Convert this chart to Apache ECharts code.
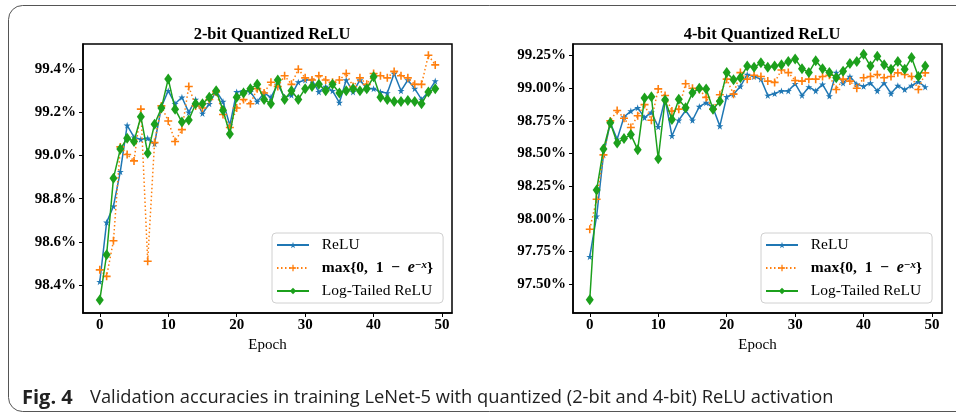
<!DOCTYPE html>
<html>
<head>
<meta charset="utf-8">
<script src="https://cdn.jsdelivr.net/npm/echarts@6/dist/echarts.min.js"></script>
<style>
  html, body { margin: 0; padding: 0; background: #fff; }
  #chart { width: 956px; height: 417px; }
</style>
</head>
<body>
<div id="chart"></div>
<script>
// epochs 0..49
const epochs = [0, 1, 2, 3, 4, 5, 6, 7, 8, 9, 10, 11, 12, 13, 14, 15, 16, 17, 18, 19,
  20, 21, 22, 23, 24, 25, 26, 27, 28, 29, 30, 31, 32, 33, 34, 35, 36, 37, 38, 39,
  40, 41, 42, 43, 44, 45, 46, 47, 48, 49]
const epochTicks = [0, 10, 20, 30, 40, 50]

// 2-bit quantized ReLU (%)
const relu2 = [98.415, 98.69, 98.765, 98.925, 99.14, 99.085, 99.075, 99.08, 99.055, 99.225,
  99.30, 99.24, 99.27, 99.20, 99.26, 99.195, 99.24, 99.30, 99.25, 99.14,
  99.295, 99.30, 99.295, 99.25, 99.29, 99.27, 99.33, 99.27, 99.28, 99.34,
  99.35, 99.35, 99.295, 99.32, 99.30, 99.245, 99.35, 99.295, 99.35, 99.31,
  99.31, 99.295, 99.29, 99.38, 99.30, 99.35, 99.31, 99.26, 99.295, 99.345]
const max2 = [98.47, 98.44, 98.605, 99.04, 99.005, 98.975, 99.215, 98.51, 99.06, 99.23,
  99.16, 99.065, 99.12, 99.32, 99.23, 99.22, 99.26, 99.295, 99.19, 99.13,
  99.22, 99.26, 99.24, 99.31, 99.29, 99.34, 99.32, 99.37, 99.33, 99.40,
  99.36, 99.35, 99.37, 99.35, 99.34, 99.35, 99.38, 99.32, 99.36, 99.33,
  99.38, 99.37, 99.36, 99.39, 99.37, 99.36, 99.33, 99.33, 99.465, 99.42]
const logt2 = [98.33, 98.54, 98.895, 99.03, 99.08, 99.065, 99.18, 99.01, 99.145, 99.22,
  99.355, 99.215, 99.155, 99.165, 99.24, 99.24, 99.27, 99.30, 99.21, 99.10,
  99.27, 99.29, 99.31, 99.33, 99.26, 99.24, 99.35, 99.26, 99.30, 99.26,
  99.31, 99.32, 99.33, 99.30, 99.33, 99.29, 99.30, 99.31, 99.30, 99.31,
  99.365, 99.27, 99.26, 99.25, 99.25, 99.255, 99.25, 99.24, 99.295, 99.31]
const ticks2 = [98.4, 98.6, 98.8, 99.0, 99.2, 99.4]

// 4-bit quantized ReLU (%)
const relu4 = [97.71, 98.02, 98.49, 98.735, 98.61, 98.78, 98.825, 98.85, 98.775, 98.815,
  98.705, 98.92, 98.635, 98.755, 98.83, 98.755, 98.86, 98.89, 98.85, 98.71,
  98.935, 98.955, 99.015, 99.105, 99.09, 99.07, 98.945, 98.96, 98.98, 98.98,
  99.035, 98.945, 99.01, 98.98, 99.03, 98.94, 99.12, 99.04, 99.09, 99.03,
  99.015, 99.04, 98.98, 99.04, 98.96, 99.02, 98.99, 99.02, 99.05, 99.01]
const max4 = [97.92, 98.15, 98.49, 98.75, 98.83, 98.77, 98.70, 98.79, 98.875, 98.755,
  98.995, 98.945, 98.825, 98.84, 99.035, 99.00, 98.99, 98.93, 98.84, 98.95,
  99.07, 98.955, 99.12, 99.07, 99.10, 99.09, 99.055, 99.045, 99.14, 99.12,
  99.06, 99.055, 99.07, 99.07, 99.09, 99.10, 98.99, 99.07, 99.055, 99.00,
  99.08, 99.09, 99.105, 99.08, 99.09, 99.118, 99.105, 99.09, 98.99, 99.118]
const logt4 = [97.38, 98.22, 98.535, 98.735, 98.58, 98.615, 98.645, 98.53, 98.925, 98.935,
  98.46, 98.91, 98.76, 98.915, 98.85, 98.965, 99.00, 98.995, 98.84, 98.90,
  99.12, 99.065, 99.08, 99.17, 99.16, 99.195, 99.16, 99.17, 99.18, 99.205,
  99.225, 99.15, 99.12, 99.21, 99.15, 99.12, 99.08, 99.13, 99.19, 99.205,
  99.26, 99.17, 99.245, 99.18, 99.145, 99.205, 99.145, 99.235, 99.09, 99.17]
const ticks4 = [97.5, 97.75, 98.0, 98.25, 98.5, 98.75, 99.0, 99.25]

const NAME_RELU = 'ReLU'
const NAME_MAX = 'max{0,1-e^-x}'
const NAME_LOG = 'Log-Tailed ReLU'

const SERIF = 'Liberation Serif'
const STAR = 'path://M50,0 L61,35 L98,35 L68,57 L79,91 L50,70 L21,91 L32,57 L2,35 L39,35 Z'
const PLUS = 'path://M4,0H6V4H10V6H6V10H4V6H0V4H4Z'

function pairs (ys) {
  return epochs.map((e, i) => [e, ys[i]])
}

function makeSeries (idx, relu, mx, lg) {
  return [
    {
      name: NAME_RELU, type: 'line', xAxisIndex: idx, yAxisIndex: idx,
      data: pairs(relu), symbol: STAR, symbolSize: 7,
      color: '#1f77b4', lineStyle: { width: 1.5 }, z: 2
    },
    {
      name: NAME_MAX, type: 'line', xAxisIndex: idx, yAxisIndex: idx,
      data: pairs(mx), symbol: PLUS, symbolSize: 8,
      color: '#ff7f0e', lineStyle: { width: 1.5, type: [1.5, 2.5] }, z: 3
    },
    {
      name: NAME_LOG, type: 'line', xAxisIndex: idx, yAxisIndex: idx,
      data: pairs(lg), symbol: 'diamond', symbolSize: [8, 11],
      color: '#1ca01c', lineStyle: { width: 1.5 }, z: 4
    }
  ]
}

function xAxis (idx) {
  return {
    type: 'value', gridIndex: idx, min: -2.45, max: 51.45,
    name: 'Epoch', nameLocation: 'middle', nameGap: 21,
    nameTextStyle: { fontFamily: SERIF, fontSize: 15, color: '#000' },
    splitLine: { show: false },
    axisLine: { onZero: false, lineStyle: { color: '#000', width: 1.5 } },
    axisTick: { length: 4, lineStyle: { color: '#000' }, customValues: epochTicks },
    axisLabel: {
      customValues: epochTicks, margin: 5,
      fontFamily: SERIF, fontWeight: 'bold', fontSize: 15, color: '#000'
    }
  }
}

function yAxis (idx, min, max, ticks, digits) {
  return {
    type: 'value', gridIndex: idx, min: min, max: max,
    splitLine: { show: false },
    axisLine: { onZero: false, lineStyle: { color: '#000', width: 1.5 } },
    axisTick: { length: 4, lineStyle: { color: '#000' }, customValues: ticks },
    axisLabel: {
      customValues: ticks, margin: 7,
      formatter: v => v.toFixed(digits) + '%',
      fontFamily: SERIF, fontWeight: 'bold', fontSize: 15, color: '#000'
    }
  }
}

function legend (left) {
  return {
    orient: 'vertical', left: left, top: 233,
    padding: [4, 10, 4, 4],
    itemWidth: 32, itemHeight: 8, itemGap: 7,
    borderColor: '#d0d0d0', borderWidth: 1, borderRadius: 4,
    backgroundColor: 'rgba(255,255,255,0.8)',
    data: [
      NAME_RELU,
      { name: NAME_MAX, textStyle: { fontWeight: 'bold' } },
      NAME_LOG
    ],
    formatter: function (name) {
      if (name === NAME_MAX) return '  max{0,  1  −  {i|e}{s|−x}}'
      return '  ' + name
    },
    textStyle: {
      fontFamily: SERIF, fontSize: 15.5, color: '#000', lineHeight: 16,
      rich: {
        i: { fontFamily: SERIF, fontSize: 16, fontWeight: 'bold', fontStyle: 'italic', lineHeight: 16 },
        s: { fontFamily: SERIF, fontSize: 11, fontWeight: 'bold', fontStyle: 'italic', verticalAlign: 'top', lineHeight: 16 }
      }
    }
  }
}

const chart = echarts.init(document.getElementById('chart'), null, { renderer: 'canvas' })
chart.setOption({
  animation: false,
  backgroundColor: '#fff',
  title: [
    {
      text: '2-bit Quantized ReLU', left: 267, top: 21, textAlign: 'center',
      textStyle: { fontFamily: SERIF, fontWeight: 'bold', fontSize: 16.5, color: '#000' }
    },
    {
      text: '4-bit Quantized ReLU', left: 757, top: 21, textAlign: 'center',
      textStyle: { fontFamily: SERIF, fontWeight: 'bold', fontSize: 16.5, color: '#000' }
    }
  ],
  grid: [
    { left: 83, top: 44, width: 369, height: 269, show: true, borderColor: '#000', borderWidth: 1.5 },
    { left: 573, top: 44, width: 369, height: 269, show: true, borderColor: '#000', borderWidth: 1.5 }
  ],
  xAxis: [xAxis(0), xAxis(1)],
  yAxis: [
    yAxis(0, 98.27, 99.517, ticks2, 1),
    yAxis(1, 97.279, 99.339, ticks4, 2)
  ],
  legend: [legend(272), legend(761)],
  series: makeSeries(0, relu2, max2, logt2).concat(makeSeries(1, relu4, max4, logt4)),
  graphic: [
    {
      type: 'rect', silent: true,
      shape: { x: 8.5, y: 5.5, width: 980, height: 406, r: 14 },
      style: { fill: 'none', stroke: '#555', lineWidth: 1 }
    },
    {
      type: 'text', left: 22, top: 388,
      style: { text: 'Fig. 4', font: 'bold 20px "Open Sans"', fill: '#222' }
    },
    {
      type: 'text', left: 90, top: 389,
      style: {
        text: 'Validation accuracies in training LeNet-5 with quantized (2-bit and 4-bit) ReLU activation',
        font: '18.3px "Open Sans"', fill: '#222'
      }
    }
  ]
})
</script>
</body>
</html>
